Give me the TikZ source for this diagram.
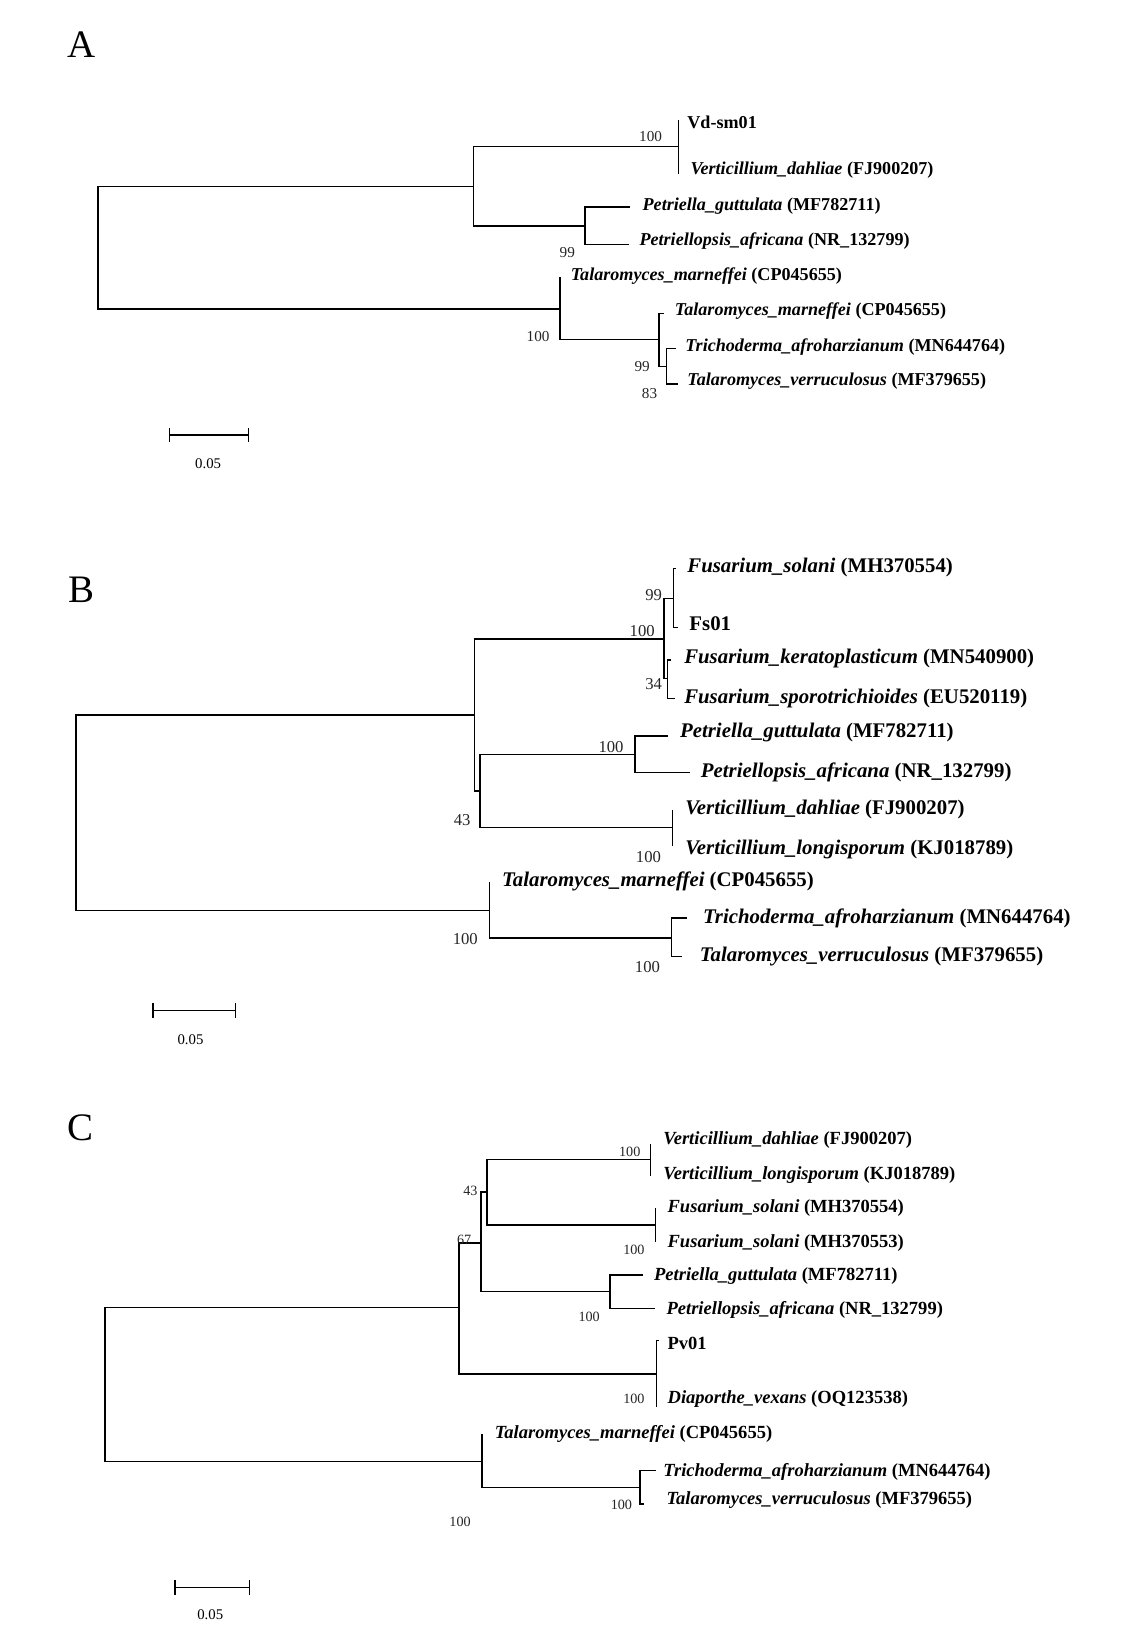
\documentclass[tikz,border=0pt]{standalone}
\usepackage{fontspec}
\setmainfont{Liberation Serif}
\newcommand\taxon[2]{\textit{#1} (#2)}
\begin{document}
\begin{tikzpicture}[x=0.5pt,y=-0.5pt,
  br/.style={line width=0.65pt},
  lab/.style={anchor=west, inner sep=0pt},
  bs/.style={inner sep=0pt, text=black!85},
  fA/.style={font=\fontsize{8.7}{10}\selectfont\bfseries},
  fB/.style={font=\fontsize{10}{12}\selectfont\bfseries},
  fC/.style={font=\fontsize{8.9}{10}\selectfont\bfseries},
  bA/.style={font=\fontsize{7.3}{8}\selectfont},
  bB/.style={font=\fontsize{8}{9}\selectfont},
  bC/.style={font=\fontsize{6.8}{8}\selectfont},
  plet/.style={inner sep=0pt, font=\fontsize{18.7}{20}\selectfont},
  sclab/.style={inner sep=0pt, font=\fontsize{7.1}{8}\selectfont}]
\fill[white] (0,0) rectangle (1094,1565);
\useasboundingbox (0,0) rectangle (1094,1565);

%================ Panel A =================
\node[plet] (LA) at (78,43) {A};
\coordinate (rA) at (94,238);
\coordinate (a1) at (455,179);
\coordinate (a2) at (652,141);
\coordinate (a3) at (562,217);
\coordinate (a4) at (538,297);
\coordinate (a5) at (633,326);
\coordinate (a6) at (640,352);
\coordinate (tA1) at (652,115);
\coordinate (tA2) at (652,167);
\coordinate (tA3) at (605,199);
\coordinate (tA4) at (604,235);
\coordinate (tA5) at (538,266);
\coordinate (tA6) at (638,301);
\coordinate (tA7) at (649,335);
\coordinate (tA8) at (651,369);
\draw[br] (rA) |- (a1);
\draw[br] (rA) |- (a4);
\draw[br] (a1) |- (a2);
\draw[br] (a1) |- (a3);
\draw[br] (a2) |- (tA1);
\draw[br] (a2) |- (tA2);
\draw[br] (a3) |- (tA3);
\draw[br] (a3) |- (tA4);
\draw[br] (a4) |- (tA5);
\draw[br] (a4) |- (a5);
\draw[br] (a5) |- (tA6);
\draw[br] (a5) |- (a6);
\draw[br] (a6) |- (tA7);
\draw[br] (a6) |- (tA8);
\node[lab,fA] (nA1) at (660,118) {Vd-sm01};
\node[lab,fA] (nA2) at (663,163) {\taxon{Verticillium\_dahliae}{FJ900207}};
\node[lab,fA] (nA3) at (617,198) {\taxon{Petriella\_guttulata}{MF782711}};
\node[lab,fA] (nA4) at (614,232) {\taxon{Petriellopsis\_africana}{NR\_132799}};
\node[lab,fA] (nA5) at (548,265) {\taxon{Talaromyces\_marneffei}{CP045655}};
\node[lab,fA] (nA6) at (648,299) {\taxon{Talaromyces\_marneffei}{CP045655}};
\node[lab,fA] (nA7) at (658,333) {\taxon{Trichoderma\_afroharzianum}{MN644764}};
\node[lab,fA] (nA8) at (660,366) {\taxon{Talaromyces\_verruculosus}{MF379655}};
\node[bs,bA] (sbA1) at (625,131) {100};
\node[bs,bA] (sbA2) at (545,243) {99};
\node[bs,bA] (sbA3) at (517,323) {100};
\node[bs,bA] (sbA4) at (617,352) {99};
\node[bs,bA] (sbA5) at (624,378) {83};
\coordinate (scA1) at (163,418);
\coordinate (scA2) at (239,418);
\draw[br] (scA1) -- (scA2);
\draw[br] (scA1) ++(0,-7) -- ++(0,14);
\draw[br] (scA2) ++(0,-7) -- ++(0,14);
\node[sclab] (scAl) at (200,445) {0.05};

%================ Panel B =================
\node[plet] (LB) at (78,567) {B};
\coordinate (rB) at (73,782);
\coordinate (b1) at (456,687);
\coordinate (b2) at (638,614);
\coordinate (b3) at (647,575);
\coordinate (b4) at (641,652);
\coordinate (b5) at (461,760);
\coordinate (b6) at (610,725);
\coordinate (b7) at (646,795);
\coordinate (b8) at (470,875);
\coordinate (b9) at (645,901);
\coordinate (tB1) at (649,546);
\coordinate (tB2) at (651,603);
\coordinate (tB3) at (645,634);
\coordinate (tB4) at (648,671);
\coordinate (tB5) at (642,707);
\coordinate (tB6) at (663,742);
\coordinate (tB7) at (646,778);
\coordinate (tB8) at (646,813);
\coordinate (tB9) at (470,847);
\coordinate (tB10) at (660,882);
\coordinate (tB11) at (655,919);
\draw[br] (rB) |- (b1);
\draw[br] (rB) |- (b8);
\draw[br] (b1) |- (b2);
\draw[br] (b1) |- (b5);
\draw[br] (b2) |- (b3);
\draw[br] (b2) |- (b4);
\draw[br] (b3) |- (tB1);
\draw[br] (b3) |- (tB2);
\draw[br] (b4) |- (tB3);
\draw[br] (b4) |- (tB4);
\draw[br] (b5) |- (b6);
\draw[br] (b5) |- (b7);
\draw[br] (b6) |- (tB5);
\draw[br] (b6) |- (tB6);
\draw[br] (b7) |- (tB7);
\draw[br] (b7) |- (tB8);
\draw[br] (b8) |- (tB9);
\draw[br] (b8) |- (b9);
\draw[br] (b9) |- (tB10);
\draw[br] (b9) |- (tB11);
\node[lab,fB] (nB1) at (660,545) {\taxon{Fusarium\_solani}{MH370554}};
\node[lab,fB] (nB2) at (662,599) {Fs01};
\node[lab,fB] (nB3) at (657,633) {\taxon{Fusarium\_keratoplasticum}{MN540900}};
\node[lab,fB] (nB4) at (657,671) {\taxon{Fusarium\_sporotrichioides}{EU520119}};
\node[lab,fB] (nB5) at (653,704) {\taxon{Petriella\_guttulata}{MF782711}};
\node[lab,fB] (nB6) at (673,742) {\taxon{Petriellopsis\_africana}{NR\_132799}};
\node[lab,fB] (nB7) at (658,778) {\taxon{Verticillium\_dahliae}{FJ900207}};
\node[lab,fB] (nB8) at (658,816) {\taxon{Verticillium\_longisporum}{KJ018789}};
\node[lab,fB] (nB9) at (482,847) {\taxon{Talaromyces\_marneffei}{CP045655}};
\node[lab,fB] (nB10) at (675,882) {\taxon{Trichoderma\_afroharzianum}{MN644764}};
\node[lab,fB] (nB11) at (672,919) {\taxon{Talaromyces\_verruculosus}{MF379655}};
\node[bs,bB] (sbB1) at (628,572) {99};
\node[bs,bB] (sbB2) at (617,606) {100};
\node[bs,bB] (sbB3) at (628,657) {34};
\node[bs,bB] (sbB4) at (587,718) {100};
\node[bs,bB] (sbB5) at (444,788) {43};
\node[bs,bB] (sbB6) at (623,823) {100};
\node[bs,bB] (sbB7) at (447,902) {100};
\node[bs,bB] (sbB8) at (622,929) {100};
\coordinate (scB1) at (147,971);
\coordinate (scB2) at (226,971);
\draw[br] (scB1) -- (scB2);
\draw[br] (scB1) ++(0,-7) -- ++(0,14);
\draw[br] (scB2) ++(0,-7) -- ++(0,14);
\node[sclab] (scBl) at (183,999) {0.05};

%================ Panel C =================
\node[plet] (LC) at (77,1083) {C};
\coordinate (rC) at (101,1330);
\coordinate (c1) at (441,1256);
\coordinate (c2) at (462,1194);
\coordinate (c3) at (468,1145);
\coordinate (c4) at (625,1114);
\coordinate (c5) at (630,1177);
\coordinate (c6) at (586,1241);
\coordinate (c7) at (631,1320);
\coordinate (c8) at (463,1404);
\coordinate (c9) at (615,1429);
\coordinate (tC1) at (625,1099);
\coordinate (tC2) at (625,1130);
\coordinate (tC3) at (630,1161);
\coordinate (tC4) at (630,1193);
\coordinate (tC5) at (618,1225);
\coordinate (tC6) at (629,1257);
\coordinate (tC7) at (633,1288);
\coordinate (tC8) at (631,1352);
\coordinate (tC9) at (463,1378);
\coordinate (tC10) at (630,1413);
\coordinate (tC11) at (619,1445);
\draw[br] (rC) |- (c1);
\draw[br] (rC) |- (c8);
\draw[br] (c1) |- (c2);
\draw[br] (c1) |- (c7);
\draw[br] (c2) |- (c3);
\draw[br] (c2) |- (c6);
\draw[br] (c3) |- (c4);
\draw[br] (c3) |- (c5);
\draw[br] (c4) |- (tC1);
\draw[br] (c4) |- (tC2);
\draw[br] (c5) |- (tC3);
\draw[br] (c5) |- (tC4);
\draw[br] (c6) |- (tC5);
\draw[br] (c6) |- (tC6);
\draw[br] (c7) |- (tC7);
\draw[br] (c7) |- (tC8);
\draw[br] (c8) |- (tC9);
\draw[br] (c8) |- (c9);
\draw[br] (c9) |- (tC10);
\draw[br] (c9) |- (tC11);
\node[lab,fC] (nC1) at (637,1095) {\taxon{Verticillium\_dahliae}{FJ900207}};
\node[lab,fC] (nC2) at (637,1129) {\taxon{Verticillium\_longisporum}{KJ018789}};
\node[lab,fC] (nC3) at (641,1161) {\taxon{Fusarium\_solani}{MH370554}};
\node[lab,fC] (nC4) at (641,1194) {\taxon{Fusarium\_solani}{MH370553}};
\node[lab,fC] (nC5) at (628,1226) {\taxon{Petriella\_guttulata}{MF782711}};
\node[lab,fC] (nC6) at (640,1258) {\taxon{Petriellopsis\_africana}{NR\_132799}};
\node[lab,fC] (nC7) at (641,1291) {Pv01};
\node[lab,fC] (nC8) at (641,1344) {\taxon{Diaporthe\_vexans}{OQ123538}};
\node[lab,fC] (nC9) at (475,1378) {\taxon{Talaromyces\_marneffei}{CP045655}};
\node[lab,fC] (nC10) at (637,1414) {\taxon{Trichoderma\_afroharzianum}{MN644764}};
\node[lab,fC] (nC11) at (640,1441) {\taxon{Talaromyces\_verruculosus}{MF379655}};
\node[bs,bC] (sbC1) at (605,1107) {100};
\node[bs,bC] (sbC2) at (452,1144) {43};
\node[bs,bC] (sbC3) at (446,1191) {67};
\node[bs,bC] (sbC4) at (609,1201) {100};
\node[bs,bC] (sbC5) at (566,1265) {100};
\node[bs,bC] (sbC6) at (609,1344) {100};
\node[bs,bC] (sbC7) at (597,1446) {100};
\node[bs,bC] (sbC8) at (442,1462) {100};
\coordinate (scC1) at (168,1525);
\coordinate (scC2) at (240,1525);
\draw[br] (scC1) -- (scC2);
\draw[br] (scC1) ++(0,-7) -- ++(0,14);
\draw[br] (scC2) ++(0,-7) -- ++(0,14);
\node[sclab] (scCl) at (202,1551) {0.05};
\end{tikzpicture}
\end{document}
